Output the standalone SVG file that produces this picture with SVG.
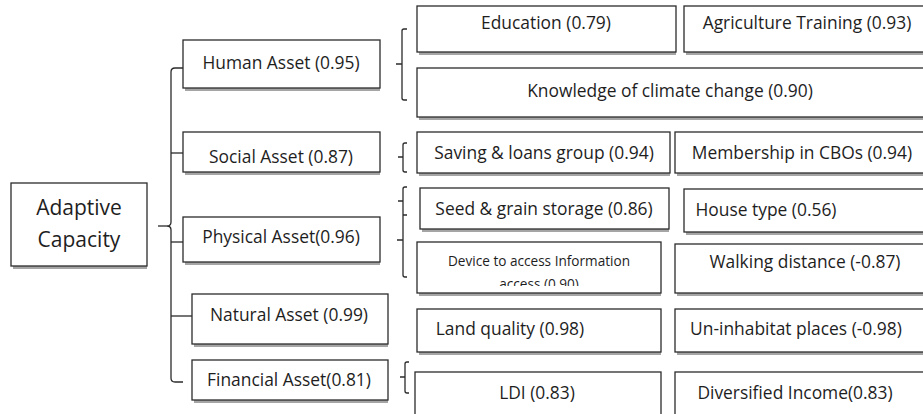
<svg xmlns="http://www.w3.org/2000/svg" width="923" height="414" viewBox="0 0 923 414">
<style>
.box{fill:#fff;stroke:#2b2b2b;stroke-width:1.3}
.sh{fill:#a5a5a5}
.t{font-family:"Open Sans","Liberation Sans",sans-serif;font-size:17.4px;fill:#1e1e1e;text-anchor:middle}
.big{font-size:21px}
.sm{font-size:13.6px}
.c{fill:none;stroke:#2b2b2b;stroke-width:1.3}
</style>
<defs>
<clipPath id="devclip"><rect x="417" y="242" width="244" height="44"/></clipPath>
</defs>
<g id="connectors">
<path class="c" d="M183 68 H175 Q171 68 171 72 V222 Q171 226 167 226 Q171 226 171 230 V378 Q171 382 175 382 H183"/>
<path class="c" d="M158 226 H167"/>
<path class="c" d="M171 153 H183"/>
<path class="c" d="M171 242 H183"/>
<path class="c" d="M171 316 H192"/>
<path class="c" d="M407 29 H404 Q402 29 402 31 V98 Q402 100 404 100 H407 M396 64 H402"/>
<path class="c" d="M407 143 H405 Q403 143 403 145 V170 Q403 172 405 172 H407 M398 157 H403"/>
<path class="c" d="M407 187 H405 Q403 187 403 189 V275 Q403 277 405 277 H407 M403 215 H407 M398 201 H403 M397 240 H403"/>
<path class="c" d="M409 362 H407 Q405 362 405 364 V391 Q405 393 407 393 H409 M400 377 H405"/>
</g>
<g id="adaptive">
<rect class="sh" x="13" y="266" width="134" height="3"/>
<rect class="box" x="11" y="183" width="136" height="83"/>
<text class="t big" x="79" y="215">Adaptive</text>
<text class="t big" x="79" y="247">Capacity</text>
</g>
<g id="human">
<rect class="sh" x="185" y="88" width="195" height="3"/>
<rect class="box" x="183" y="40" width="197" height="48"/>
<text class="t" x="281" y="69">Human Asset (0.95)</text>
</g>
<g id="social">
<rect class="sh" x="185" y="172" width="195" height="3"/>
<rect class="box" x="183" y="132" width="197" height="40"/>
<text class="t" x="281" y="163">Social Asset (0.87)</text>
</g>
<g id="physical">
<rect class="sh" x="185" y="262" width="195" height="3"/>
<rect class="box" x="183" y="217" width="197" height="45"/>
<text class="t" x="281" y="243">Physical Asset(0.96)</text>
</g>
<g id="natural">
<rect class="sh" x="194" y="344" width="194" height="3"/>
<rect class="box" x="192" y="294" width="196" height="50"/>
<text class="t" x="289" y="321">Natural Asset (0.99)</text>
</g>
<g id="financial">
<rect class="sh" x="194" y="400" width="194" height="3"/>
<rect class="box" x="192" y="360" width="196" height="40"/>
<text class="t" x="289" y="386">Financial Asset(0.81)</text>
</g>
<g id="education">
<rect class="sh" x="419" y="52" width="257" height="3"/>
<rect class="box" x="417" y="6" width="259" height="46"/>
<text class="t" x="546" y="29">Education (0.79)</text>
</g>
<g id="agri">
<rect class="sh" x="686" y="52" width="250" height="3"/>
<rect class="box" x="684" y="6" width="250" height="46"/>
<text class="t" x="807" y="29">Agriculture Training (0.93)</text>
</g>
<g id="knowledge">
<rect class="sh" x="419" y="117" width="520" height="3"/>
<rect class="box" x="417" y="68" width="520" height="49"/>
<text class="t" x="670" y="97">Knowledge of climate change (0.90)</text>
</g>
<g id="saving">
<rect class="sh" x="419" y="173" width="251" height="3"/>
<rect class="box" x="417" y="132" width="253" height="41"/>
<text class="t" x="544" y="159">Saving &amp; loans group (0.94)</text>
</g>
<g id="membership">
<rect class="sh" x="677" y="173" width="260" height="3"/>
<rect class="box" x="675" y="132" width="260" height="41"/>
<text class="t" x="802" y="159">Membership in CBOs (0.94)</text>
</g>
<g id="seed">
<rect class="sh" x="422" y="229" width="247" height="3"/>
<rect class="box" x="420" y="188" width="249" height="41"/>
<text class="t" x="544" y="215">Seed &amp; grain storage (0.86)</text>
</g>
<g id="house">
<rect class="sh" x="686" y="232" width="250" height="3"/>
<rect class="box" x="684" y="189" width="250" height="43"/>
<text class="t" x="766" y="216">House type (0.56)</text>
</g>
<g id="device">
<rect class="sh" x="419" y="293" width="242" height="3"/>
<rect class="box" x="417" y="242" width="244" height="51"/>
<g clip-path="url(#devclip)">
<text class="t sm" x="539" y="266">Device to access Information</text>
<text class="t sm" x="539" y="289">access (0.90)</text>
</g>
</g>
<g id="walking">
<rect class="sh" x="677" y="293" width="260" height="3"/>
<rect class="box" x="675" y="244" width="260" height="49"/>
<text class="t" x="805" y="268">Walking distance (-0.87)</text>
</g>
<g id="land">
<rect class="sh" x="419" y="352" width="242" height="3"/>
<rect class="box" x="417" y="309" width="244" height="43"/>
<text class="t" x="510" y="335">Land quality (0.98)</text>
</g>
<g id="uninhabit">
<rect class="sh" x="677" y="352" width="260" height="3"/>
<rect class="box" x="675" y="309" width="260" height="43"/>
<text class="t" x="796" y="335">Un-inhabitat places (-0.98)</text>
</g>
<g id="ldi">
<rect class="box" x="415" y="372" width="246" height="50"/>
<text class="t" x="537" y="399">LDI (0.83)</text>
</g>
<g id="diversified">
<rect class="box" x="675" y="372" width="260" height="50"/>
<text class="t" x="795" y="399">Diversified Income(0.83)</text>
</g>
</svg>
